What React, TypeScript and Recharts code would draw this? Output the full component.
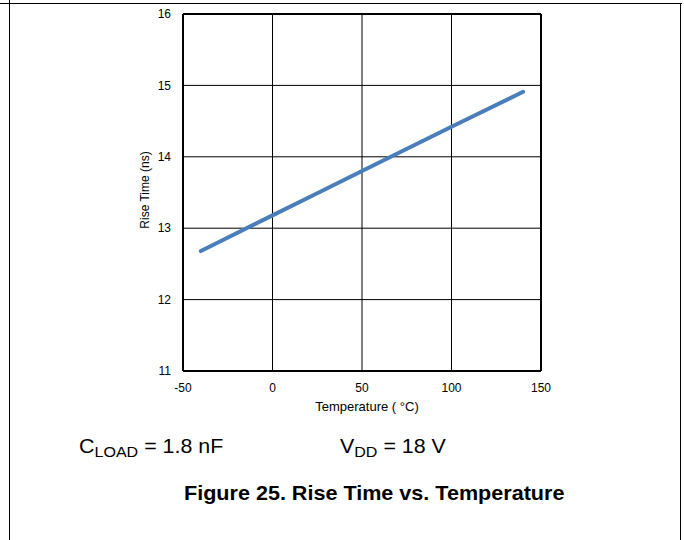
import { CartesianGrid, Line, LineChart, ReferenceLine, XAxis, YAxis } from "recharts";

const temperatures = [-40, 0, 25, 50, 100, 140];
const riseTimes = [12.68, 13.18, 13.49, 13.8, 14.42, 14.91];
const xTicks = [-50, 0, 50, 100, 150];
const yTicks = [11, 12, 13, 14, 15, 16];

const data = temperatures.map((t, i) => ({ temp: t, rise: riseTimes[i] }));

const font = "'Liberation Sans', Arial, sans-serif";

const App = () => {
	return (
		<div style={{ position: "absolute", left: 0, top: 0, width: 684, height: 540, background: "#fff", fontFamily: font }}>
			{/* page frame */}
			<div style={{ position: "absolute", left: 0, top: 3, width: 682, height: 0, borderTop: "1.5px solid #000" }} />
			<div style={{ position: "absolute", left: 9, top: 0, width: 0, height: 540, borderLeft: "1.5px solid #000" }} />
			<div style={{ position: "absolute", left: 680, top: 3, width: 0, height: 537, borderLeft: "1.5px solid #000" }} />

			<div style={{ position: "absolute", left: 0, top: 0 }}>
				<LineChart width={684} height={540} data={data} margin={{ top: 14, right: 143, left: 143, bottom: 139 }}>
					<CartesianGrid stroke="#000" strokeWidth={1} horizontalValues={yTicks} verticalValues={xTicks} />
					<XAxis
						dataKey="temp"
						type="number"
						domain={[-50, 150]}
						ticks={xTicks}
						height={30}
						tickSize={0}
						tickMargin={12}
						axisLine={{ stroke: "#000", strokeWidth: 2 }}
						tick={{ fill: "#000", fontSize: 12, fontFamily: font }}
					/>
					<YAxis
						type="number"
						domain={[11, 16]}
						ticks={yTicks}
						width={40}
						tickSize={0}
						tickMargin={12}
						axisLine={{ stroke: "#000", strokeWidth: 2 }}
						tick={{ fill: "#000", fontSize: 12, fontFamily: font }}
					/>
					<ReferenceLine y={16} stroke="#000" strokeWidth={2} />
					<ReferenceLine x={150} stroke="#000" strokeWidth={2} />
					<Line
						type="linear"
						dataKey="rise"
						stroke="#4a7ebb"
						strokeWidth={4}
						strokeLinecap="round"
						dot={false}
						isAnimationActive={false}
					/>
				</LineChart>
			</div>

			<div style={{ position: "absolute", left: 267, top: 399, width: 200, textAlign: "center", fontSize: 13, lineHeight: "15px" }}>
				Temperature ( °C)
			</div>
			<div
				style={{
					position: "absolute",
					left: 145,
					top: 190,
					transform: "translate(-50%, -50%) rotate(-90deg)",
					whiteSpace: "nowrap",
					fontSize: 12,
				}}
			>
				Rise Time (ns)
			</div>

			<div
				style={{
					position: "absolute",
					left: 79,
					top: 434,
					fontSize: 20,
					lineHeight: "24px",
					whiteSpace: "nowrap",
					transform: "scaleX(1.07)",
					transformOrigin: "left center",
				}}
			>
				C<sub style={{ fontSize: 15, verticalAlign: "-4px", lineHeight: 0 }}>LOAD</sub> = 1.8 nF
			</div>
			<div
				style={{
					position: "absolute",
					left: 340,
					top: 434,
					fontSize: 20,
					lineHeight: "24px",
					whiteSpace: "nowrap",
					transform: "scaleX(1.07)",
					transformOrigin: "left center",
				}}
			>
				V<sub style={{ fontSize: 15, verticalAlign: "-4px", lineHeight: 0 }}>DD</sub> = 18 V
			</div>
			<div
				style={{
					position: "absolute",
					left: 184,
					top: 481,
					fontSize: 21,
					lineHeight: "24px",
					fontWeight: "bold",
					whiteSpace: "nowrap",
					transform: "scaleX(1.027)",
					transformOrigin: "left center",
				}}
			>
				Figure 25. Rise Time vs. Temperature
			</div>
		</div>
	);
};

export default App;
